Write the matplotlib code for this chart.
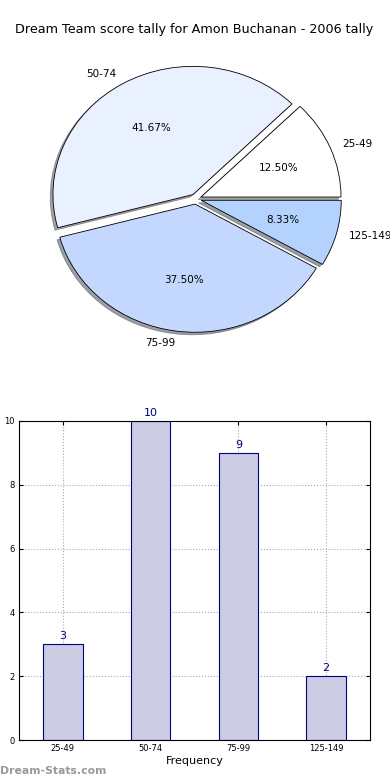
import matplotlib
matplotlib.use("Agg")
import matplotlib.pyplot as plt

title = "Dream Team score tally for Amon Buchanan - 2006 tally"
categories = ["25-49", "50-74", "75-99", "125-149"]
counts = [3, 10, 9, 2]
pie_colors = ["#FFFFFF", "#E9F0FE", "#C4D7FE", "#B3D3FE"]
explode = [0.04, 0.04, 0.04, 0.04]
ylabel = "Number of times"
xlabel = "Frequency"
yticks = [0, 2, 4, 6, 8, 10]

fig = plt.figure(figsize=(3.9, 7.8), dpi=100)
fig.text(0.498, 1 - 30 / 780, title, ha="center", va="center", fontsize=9.2)

# Pie
axp = fig.add_axes([0.107, 1 - (199 + 141) / 780, 0.79, 282 / 780])
wedges, texts, autotexts = axp.pie(
    counts, labels=categories, colors=pie_colors, explode=explode,
    autopct="%1.2f%%", shadow={"ox": -0.014, "oy": -0.014}, startangle=0, counterclock=True,
    wedgeprops=dict(edgecolor="black", linewidth=0.6),
    textprops=dict(fontsize=7.5), labeldistance=1.09, pctdistance=0.6)
axp.set_aspect("auto")
axp.set_xlim(-1.1, 1.1)
axp.set_ylim(-1.1, 1.1)
axp.axis("off")

# Bar
axb = fig.add_axes([19 / 390, 40 / 780, 351 / 390, 319 / 780])
x = list(range(len(categories)))
axb.bar(x, counts, width=0.45, color="#CCCCE5", edgecolor="#000080", linewidth=0.8, zorder=2)
for xi, c in zip(x, counts):
    axb.text(xi, c + 0.1, str(c), ha="center", va="bottom", fontsize=8, color="#000080")
axb.set_xlim(-0.5, 3.5)
axb.set_ylim(0, 10)
axb.set_xticks(x)
axb.set_xticklabels(categories)
axb.set_yticks(yticks)
axb.tick_params(labelsize=6, direction="in", length=3, top=True, right=True, pad=3)
axb.grid(True, linestyle=":", color="#AAAAAA", linewidth=0.8, zorder=0)
axb.set_axisbelow(True)
axb.set_xlabel(xlabel, fontsize=8, labelpad=2)
axb.set_ylabel(ylabel, fontsize=8, labelpad=8)
for s in axb.spines.values():
    s.set_linewidth(0.8)

fig.text(0.0, 9 / 780, "Dream-Stats.com", ha="left", va="center", fontsize=7.8,
         color="#999999", fontweight="bold")

fig.savefig("out.png", dpi=100)
